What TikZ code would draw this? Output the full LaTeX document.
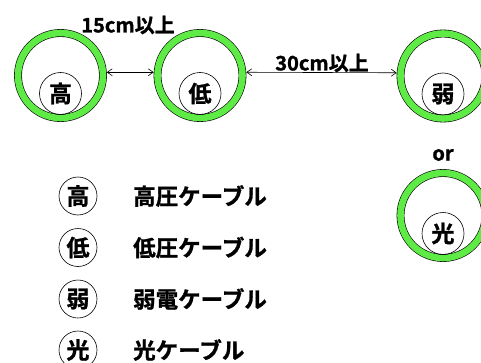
\documentclass[tikz,border=0pt]{standalone}
\usepackage{fontspec}
\newfontfamily\jp{Noto Sans CJK JP}[BoldFont={Noto Sans CJK JP Bold},BoldFeatures={FakeBold=1.2}]
\usetikzlibrary{arrows.meta}
\definecolor{ringgreen}{RGB}{95,235,70}
\begin{document}
\begin{tikzpicture}[x=1pt,y=1pt,
  font=\jp\bfseries\fontsize{20}{24}\selectfont,
  pipe/.style={circle, draw=black, line width=0.6pt, double=ringgreen,
    double distance=6.6pt, minimum size=85pt, inner sep=0pt, outer sep=3.9pt},
  cable/.style={circle, draw, line width=0.6pt, minimum size=42pt, inner sep=0pt,
    font=\jp\bfseries\fontsize{23}{26}\selectfont},
  legcirc/.style={circle, draw, line width=0.6pt, minimum size=38pt, inner sep=0pt,
    font=\jp\bfseries\fontsize{23}{26}\selectfont},
  legtext/.style={anchor=west, inner sep=0pt, font=\jp\bfseries\fontsize{22.5}{26}\selectfont},
  gap/.style={line width=0.6pt, {Straight Barb[length=5pt,width=7pt]}-{Straight Barb[length=5pt,width=7pt]}},
  lbl/.style={inner sep=0pt}
]
\useasboundingbox (0,0) rectangle (481,362);
\clip (0,0) rectangle (481,362);
% pipes
\node[pipe] (p1) at (60.5,286.5) {};
\node[pipe] (p2) at (200,286.5) {};
\node[pipe] (p3) at (443,286) {};
\node[pipe] (p4) at (443,146.5) {};
% cables inside
\node[cable] (c1) at (60.5,268.5) {高};
\node[cable] (c2) at (200,268.5) {低};
\node[cable] (c3) at (443,268) {弱};
\node[cable] (c4) at (443,128.5) {光};
% spacing arrows
\draw[gap] (p1.4) -- (p2.176);
\draw[gap] (p2.4) -- (p3.176);
\node[lbl] (l15) at (128,337) {15cm以上};
\node[lbl] (l30) at (322,299) {30cm以上};
\node[lbl] (or) at (443,207) {or};
% legend
\node[legcirc] (k1) at (78,166) {高};
\node[legcirc] (k2) at (78,114.5) {低};
\node[legcirc] (k3) at (78,63) {弱};
\node[legcirc] (k4) at (78,12) {光};
\node[legtext] (t1) at (133,166) {高圧ケーブル};
\node[legtext] (t2) at (133,114.5) {低圧ケーブル};
\node[legtext] (t3) at (133,63) {弱電ケーブル};
\node[legtext] (t4) at (133,12) {光ケーブル};
\end{tikzpicture}
\end{document}
